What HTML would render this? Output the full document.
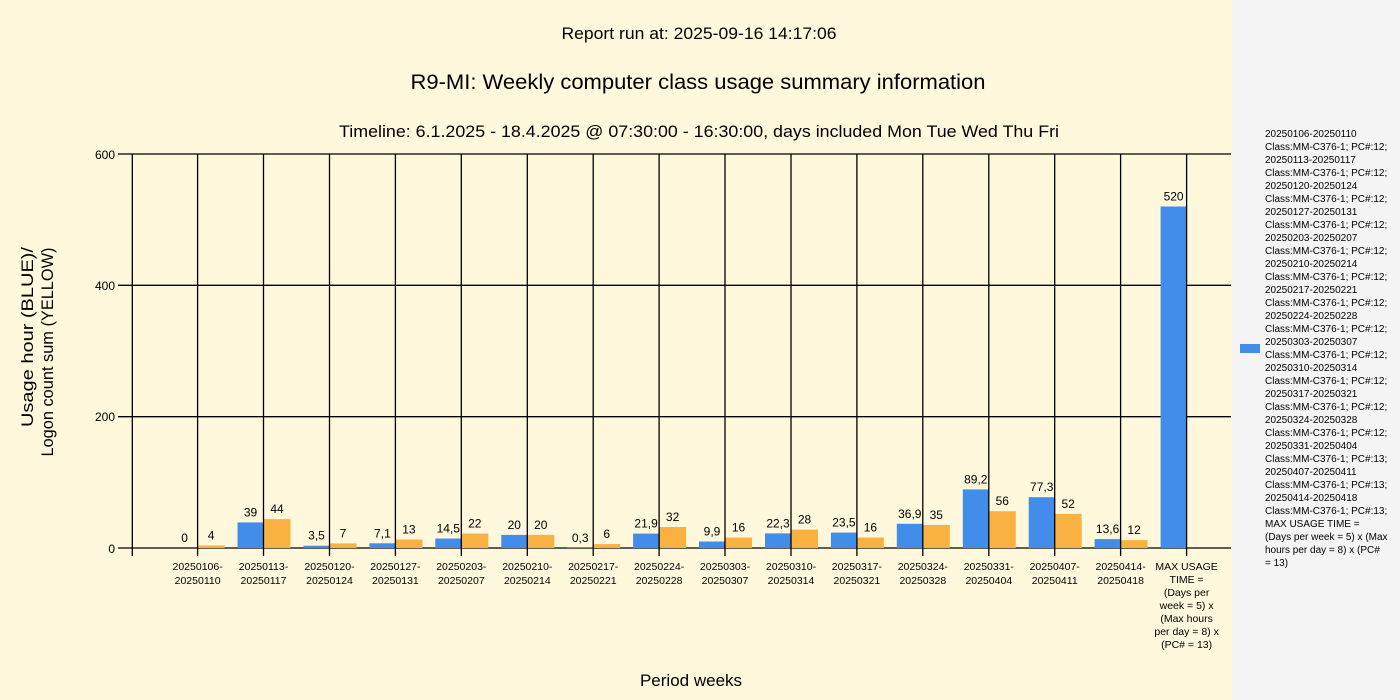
<!DOCTYPE html>
<html><head><meta charset="utf-8"><style>
html,body{margin:0;padding:0;background:#FFF8DC;}
svg{display:block;font-family:"Liberation Sans",sans-serif;}
</style></head><body>
<svg width="1400" height="700" viewBox="0 0 1400 700" xmlns="http://www.w3.org/2000/svg">
<rect x="0" y="0" width="1400" height="700" fill="#FFF8DC"/>
<rect x="1232" y="0" width="168" height="700" fill="#F4F4F4"/>
<g fill="#000" text-anchor="middle">
<text x="699" y="39" font-size="17" textLength="275" lengthAdjust="spacingAndGlyphs">Report run at: 2025-09-16 14:17:06</text>
<text x="698" y="89" font-size="21" textLength="575" lengthAdjust="spacingAndGlyphs">R9-MI: Weekly computer class usage summary information</text>
<text x="699" y="137" font-size="17" textLength="720" lengthAdjust="spacingAndGlyphs">Timeline:  6.1.2025  - 18.4.2025  @  07:30:00 -  16:30:00, days included Mon Tue Wed Thu Fri</text>
<text x="691" y="686" font-size="17">Period weeks</text>
<text transform="translate(33,337) rotate(-90)" font-size="17" textLength="180" lengthAdjust="spacingAndGlyphs">Usage hour (BLUE)/</text>
<text transform="translate(53,352) rotate(-90)" font-size="17" textLength="209" lengthAdjust="spacingAndGlyphs">Logon count sum (YELLOW)</text>
</g>
<g stroke="#000" stroke-width="1.3" fill="none">
<line x1="118" y1="154" x2="1231" y2="154"/>
<line x1="118" y1="285.3" x2="1231" y2="285.3"/>
<line x1="118" y1="416.7" x2="1231" y2="416.7"/>
<line x1="118" y1="548" x2="1231" y2="548"/>
<line x1="132.3" y1="154" x2="132.3" y2="556"/>
</g>
<g font-size="12" text-anchor="end" fill="#000">
<text x="115" y="159">600</text>
<text x="115" y="290">400</text>
<text x="115" y="421">200</text>
<text x="115" y="553">0</text>
</g>

<g font-size="12" text-anchor="middle" fill="#000">
<g transform="translate(197.6,0)"><rect x="0" y="545.4" width="27" height="2.6" fill="#F9B242"/><text x="-13" y="542">0</text><text x="13.5" y="539.4">4</text><line x1="0" y1="154" x2="0" y2="556" stroke="#000" stroke-width="1.3"/><text y="570" font-size="10.5">20250106-</text><text y="584" font-size="10.5">20250110</text></g>
<g transform="translate(263.5,0)"><rect x="-26" y="522.4" width="26" height="25.6" fill="#428CEA"/><rect x="0" y="519.1" width="27" height="28.9" fill="#F9B242"/><text x="-13" y="516.4">39</text><text x="13.5" y="513.1">44</text><line x1="0" y1="154" x2="0" y2="556" stroke="#000" stroke-width="1.3"/><text y="570" font-size="10.5">20250113-</text><text y="584" font-size="10.5">20250117</text></g>
<g transform="translate(329.5,0)"><rect x="-26" y="545.7" width="26" height="2.3" fill="#428CEA"/><rect x="0" y="543.4" width="27" height="4.6" fill="#F9B242"/><text x="-13" y="539.7">3,5</text><text x="13.5" y="537.4">7</text><line x1="0" y1="154" x2="0" y2="556" stroke="#000" stroke-width="1.3"/><text y="570" font-size="10.5">20250120-</text><text y="584" font-size="10.5">20250124</text></g>
<g transform="translate(395.4,0)"><rect x="-26" y="543.3" width="26" height="4.7" fill="#428CEA"/><rect x="0" y="539.5" width="27" height="8.5" fill="#F9B242"/><text x="-13" y="537.3">7,1</text><text x="13.5" y="533.5">13</text><line x1="0" y1="154" x2="0" y2="556" stroke="#000" stroke-width="1.3"/><text y="570" font-size="10.5">20250127-</text><text y="584" font-size="10.5">20250131</text></g>
<g transform="translate(461.3,0)"><rect x="-26" y="538.5" width="26" height="9.5" fill="#428CEA"/><rect x="0" y="533.6" width="27" height="14.4" fill="#F9B242"/><text x="-13" y="532.5">14,5</text><text x="13.5" y="527.6">22</text><line x1="0" y1="154" x2="0" y2="556" stroke="#000" stroke-width="1.3"/><text y="570" font-size="10.5">20250203-</text><text y="584" font-size="10.5">20250207</text></g>
<g transform="translate(527.3,0)"><rect x="-26" y="534.9" width="26" height="13.1" fill="#428CEA"/><rect x="0" y="534.9" width="27" height="13.1" fill="#F9B242"/><text x="-13" y="528.9">20</text><text x="13.5" y="528.9">20</text><line x1="0" y1="154" x2="0" y2="556" stroke="#000" stroke-width="1.3"/><text y="570" font-size="10.5">20250210-</text><text y="584" font-size="10.5">20250214</text></g>
<g transform="translate(593.2,0)"><rect x="-26" y="547.2" width="26" height="0.8" fill="#428CEA"/><rect x="0" y="544.1" width="27" height="3.9" fill="#F9B242"/><text x="-13" y="541.8">0,3</text><text x="13.5" y="538.1">6</text><line x1="0" y1="154" x2="0" y2="556" stroke="#000" stroke-width="1.3"/><text y="570" font-size="10.5">20250217-</text><text y="584" font-size="10.5">20250221</text></g>
<g transform="translate(659.1,0)"><rect x="-26" y="533.6" width="26" height="14.4" fill="#428CEA"/><rect x="0" y="527" width="27" height="21" fill="#F9B242"/><text x="-13" y="527.6">21,9</text><text x="13.5" y="521">32</text><line x1="0" y1="154" x2="0" y2="556" stroke="#000" stroke-width="1.3"/><text y="570" font-size="10.5">20250224-</text><text y="584" font-size="10.5">20250228</text></g>
<g transform="translate(725,0)"><rect x="-26" y="541.5" width="26" height="6.5" fill="#428CEA"/><rect x="0" y="537.5" width="27" height="10.5" fill="#F9B242"/><text x="-13" y="535.5">9,9</text><text x="13.5" y="531.5">16</text><line x1="0" y1="154" x2="0" y2="556" stroke="#000" stroke-width="1.3"/><text y="570" font-size="10.5">20250303-</text><text y="584" font-size="10.5">20250307</text></g>
<g transform="translate(791,0)"><rect x="-26" y="533.4" width="26" height="14.6" fill="#428CEA"/><rect x="0" y="529.6" width="27" height="18.4" fill="#F9B242"/><text x="-13" y="527.4">22,3</text><text x="13.5" y="523.6">28</text><line x1="0" y1="154" x2="0" y2="556" stroke="#000" stroke-width="1.3"/><text y="570" font-size="10.5">20250310-</text><text y="584" font-size="10.5">20250314</text></g>
<g transform="translate(856.9,0)"><rect x="-26" y="532.6" width="26" height="15.4" fill="#428CEA"/><rect x="0" y="537.5" width="27" height="10.5" fill="#F9B242"/><text x="-13" y="526.6">23,5</text><text x="13.5" y="531.5">16</text><line x1="0" y1="154" x2="0" y2="556" stroke="#000" stroke-width="1.3"/><text y="570" font-size="10.5">20250317-</text><text y="584" font-size="10.5">20250321</text></g>
<g transform="translate(922.8,0)"><rect x="-26" y="523.8" width="26" height="24.2" fill="#428CEA"/><rect x="0" y="525" width="27" height="23" fill="#F9B242"/><text x="-13" y="517.8">36,9</text><text x="13.5" y="519">35</text><line x1="0" y1="154" x2="0" y2="556" stroke="#000" stroke-width="1.3"/><text y="570" font-size="10.5">20250324-</text><text y="584" font-size="10.5">20250328</text></g>
<g transform="translate(988.8,0)"><rect x="-26" y="489.4" width="26" height="58.6" fill="#428CEA"/><rect x="0" y="511.2" width="27" height="36.8" fill="#F9B242"/><text x="-13" y="483.4">89,2</text><text x="13.5" y="505.2">56</text><line x1="0" y1="154" x2="0" y2="556" stroke="#000" stroke-width="1.3"/><text y="570" font-size="10.5">20250331-</text><text y="584" font-size="10.5">20250404</text></g>
<g transform="translate(1054.7,0)"><rect x="-26" y="497.2" width="26" height="50.8" fill="#428CEA"/><rect x="0" y="513.9" width="27" height="34.1" fill="#F9B242"/><text x="-13" y="491.2">77,3</text><text x="13.5" y="507.9">52</text><line x1="0" y1="154" x2="0" y2="556" stroke="#000" stroke-width="1.3"/><text y="570" font-size="10.5">20250407-</text><text y="584" font-size="10.5">20250411</text></g>
<g transform="translate(1120.6,0)"><rect x="-26" y="539.1" width="26" height="8.9" fill="#428CEA"/><rect x="0" y="540.1" width="27" height="7.9" fill="#F9B242"/><text x="-13" y="533.1">13,6</text><text x="13.5" y="534.1">12</text><line x1="0" y1="154" x2="0" y2="556" stroke="#000" stroke-width="1.3"/><text y="570" font-size="10.5">20250414-</text><text y="584" font-size="10.5">20250418</text></g>
<g transform="translate(1186.6,0)"><rect x="-26" y="206.5" width="26" height="341.5" fill="#428CEA"/><text x="-13" y="200.5">520</text><line x1="0" y1="154" x2="0" y2="556" stroke="#000" stroke-width="1.3"/>
<text y="570" font-size="10.5">MAX USAGE</text><text y="583" font-size="10.5">TIME =</text><text y="596" font-size="10.5">(Days per</text><text y="609" font-size="10.5">week = 5) x</text><text y="622" font-size="10.5">(Max hours</text><text y="635" font-size="10.5">per day = 8) x</text><text y="648" font-size="10.5">(PC# = 13)</text></g>
</g>

<g font-size="10" fill="#000">
<rect x="1240" y="344" width="20" height="9" fill="#428CEA"/>
<text x="1265" y="137">20250106-20250110</text>
<text x="1265" y="150">Class:MM-C376-1; PC#:12;</text>
<text x="1265" y="163">20250113-20250117</text>
<text x="1265" y="176">Class:MM-C376-1; PC#:12;</text>
<text x="1265" y="189">20250120-20250124</text>
<text x="1265" y="202">Class:MM-C376-1; PC#:12;</text>
<text x="1265" y="215">20250127-20250131</text>
<text x="1265" y="228">Class:MM-C376-1; PC#:12;</text>
<text x="1265" y="241">20250203-20250207</text>
<text x="1265" y="254">Class:MM-C376-1; PC#:12;</text>
<text x="1265" y="267">20250210-20250214</text>
<text x="1265" y="280">Class:MM-C376-1; PC#:12;</text>
<text x="1265" y="293">20250217-20250221</text>
<text x="1265" y="306">Class:MM-C376-1; PC#:12;</text>
<text x="1265" y="319">20250224-20250228</text>
<text x="1265" y="332">Class:MM-C376-1; PC#:12;</text>
<text x="1265" y="345">20250303-20250307</text>
<text x="1265" y="358">Class:MM-C376-1; PC#:12;</text>
<text x="1265" y="371">20250310-20250314</text>
<text x="1265" y="384">Class:MM-C376-1; PC#:12;</text>
<text x="1265" y="397">20250317-20250321</text>
<text x="1265" y="410">Class:MM-C376-1; PC#:12;</text>
<text x="1265" y="423">20250324-20250328</text>
<text x="1265" y="436">Class:MM-C376-1; PC#:12;</text>
<text x="1265" y="449">20250331-20250404</text>
<text x="1265" y="462">Class:MM-C376-1; PC#:13;</text>
<text x="1265" y="475">20250407-20250411</text>
<text x="1265" y="488">Class:MM-C376-1; PC#:13;</text>
<text x="1265" y="501">20250414-20250418</text>
<text x="1265" y="514">Class:MM-C376-1; PC#:13;</text>
<text x="1265" y="527">MAX USAGE TIME =</text>
<text x="1265" y="540"> (Days per week = 5) x (Max</text>
<text x="1265" y="553">hours per day = 8) x (PC#</text>
<text x="1265" y="566">= 13)</text>
</g>
</svg>
</body></html>
